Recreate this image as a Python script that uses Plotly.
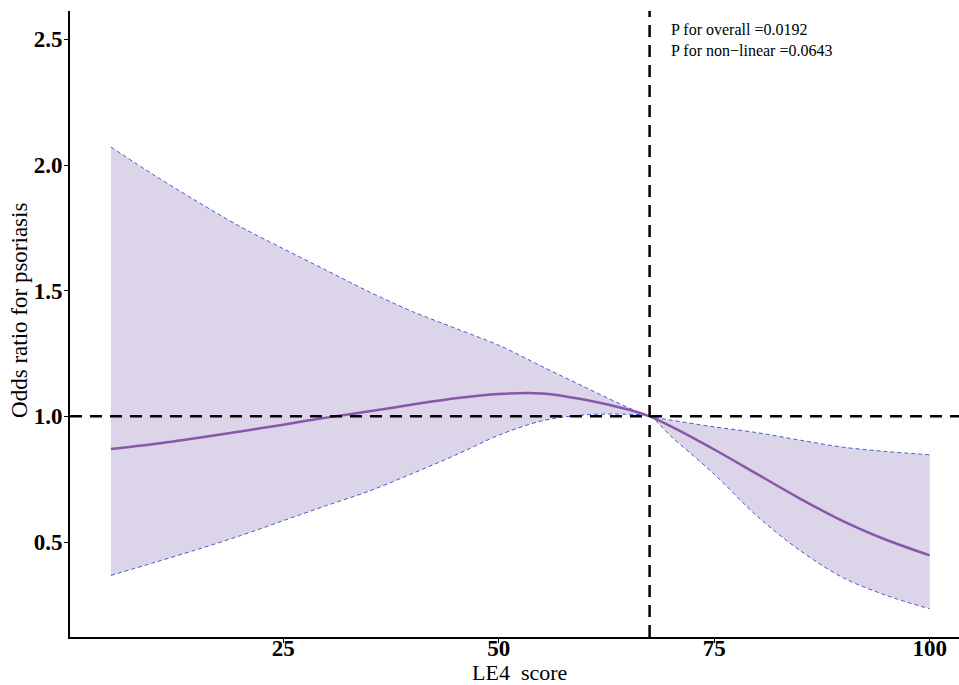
import plotly.graph_objects as go

# ---- data ----
le4_score = [5, 10, 15, 20, 25, 30, 35, 40, 45, 50, 55, 60, 65, 67.5, 70, 75, 80, 85, 90, 95, 100]
or_est = [0.870, 0.890, 0.914, 0.940, 0.967, 0.995, 1.020, 1.047, 1.072, 1.089, 1.091, 1.066,
          1.027, 1.000, 0.960, 0.868, 0.770, 0.672, 0.582, 0.508, 0.447]
or_upper = [2.072, 1.960, 1.855, 1.755, 1.667, 1.581, 1.495, 1.417, 1.350, 1.283, 1.199, 1.116,
            1.035, 1.000, 0.985, 0.958, 0.935, 0.905, 0.877, 0.860, 0.847]
or_lower = [0.367, 0.418, 0.470, 0.525, 0.585, 0.645, 0.703, 0.773, 0.846, 0.925, 0.982, 1.006,
            1.008, 1.000, 0.920, 0.770, 0.602, 0.465, 0.357, 0.287, 0.234]
ref_x = 67.5
ref_y = 1.0
x_ticks = [25, 50, 75, 100]
y_ticks = [0.5, 1.0, 1.5, 2.0, 2.5]
p_texts = ["P for overall =0.0192", "P for non\u2212linear =0.0643"]
x_title = "LE4\u00a0\u00a0score"
y_title = "Odds ratio for psoriasis"

SERIF = "Liberation Serif"
fill_col = "rgba(220,212,232,1)"
line_col = "rgb(136,88,168)"
bound_col = "rgb(72,92,200)"
SM = 0.9

fig = go.Figure()
# ribbon: lower (invisible) then upper filled to it
fig.add_trace(go.Scatter(
    x=le4_score, y=or_lower, mode="lines",
    line=dict(width=0, shape="spline", smoothing=SM),
    hoverinfo="skip", showlegend=False))
fig.add_trace(go.Scatter(
    x=le4_score, y=or_upper, mode="lines", fill="tonexty", fillcolor=fill_col,
    line=dict(width=0, shape="spline", smoothing=SM),
    hoverinfo="skip", showlegend=False))
fig.add_trace(go.Scatter(
    x=le4_score, y=or_upper, mode="lines",
    line=dict(color=bound_col, width=1, dash="4px,3px", shape="spline", smoothing=SM),
    showlegend=False))
fig.add_trace(go.Scatter(
    x=le4_score, y=or_lower, mode="lines",
    line=dict(color=bound_col, width=1, dash="4px,3px", shape="spline", smoothing=SM),
    showlegend=False))
fig.add_trace(go.Scatter(
    x=le4_score, y=or_est, mode="lines",
    line=dict(color=line_col, width=2.5, shape="spline", smoothing=SM),
    showlegend=False))

fig.add_hline(y=ref_y, line=dict(color="black", width=2.5, dash="12px,8px"), layer="above")
fig.add_vline(x=ref_x, line=dict(color="black", width=2.5, dash="12px,8px"), layer="above")

for i, t in enumerate(p_texts):
    fig.add_annotation(x=69.8, y=2.54 - i * 0.085, text=t, showarrow=False,
                       xanchor="left", yanchor="middle",
                       font=dict(family=SERIF, size=16, color="black"))

# axis titles
fig.add_annotation(xref="paper", yref="paper", x=0.506, y=-0.0575, text=x_title,
                   showarrow=False, xanchor="center", yanchor="middle",
                   font=dict(family=SERIF, size=22, color="black"))
fig.add_annotation(xref="paper", yref="paper", x=-0.0562, y=0.521, text=y_title,
                   showarrow=False, xanchor="center", yanchor="middle", textangle=-90,
                   font=dict(family=SERIF, size=23, color="black"))

fig.update_layout(
    width=959, height=685,
    margin=dict(l=70, r=0, t=11, b=48),
    plot_bgcolor="white", paper_bgcolor="white",
    font=dict(family=SERIF, color="black"),
)
fig.update_xaxes(
    range=[0.25, 103.4], tickvals=x_ticks, ticktext=["<b>%d</b>" % v for v in x_ticks],
    showgrid=False, zeroline=False, automargin=False,
    showline=True, linecolor="black", linewidth=2,
    ticks="outside", ticklen=4, tickwidth=1, tickcolor="black",
    ticklabelstandoff=-15,
    tickfont=dict(family=SERIF, size=23, color="black"),
)
fig.update_yaxes(
    range=[0.122, 2.613], tickvals=y_ticks, ticktext=["<b>%.1f</b>" % v for v in y_ticks],
    showgrid=False, zeroline=False, automargin=False,
    showline=True, linecolor="black", linewidth=2,
    ticks="outside", ticklen=4, tickwidth=1, tickcolor="black",
    ticklabelstandoff=-3,
    tickfont=dict(family=SERIF, size=23, color="black"),
)

fig.write_html("out.html", config={"displayModeBar": False},
               post_script="document.body.style.margin='0';")
